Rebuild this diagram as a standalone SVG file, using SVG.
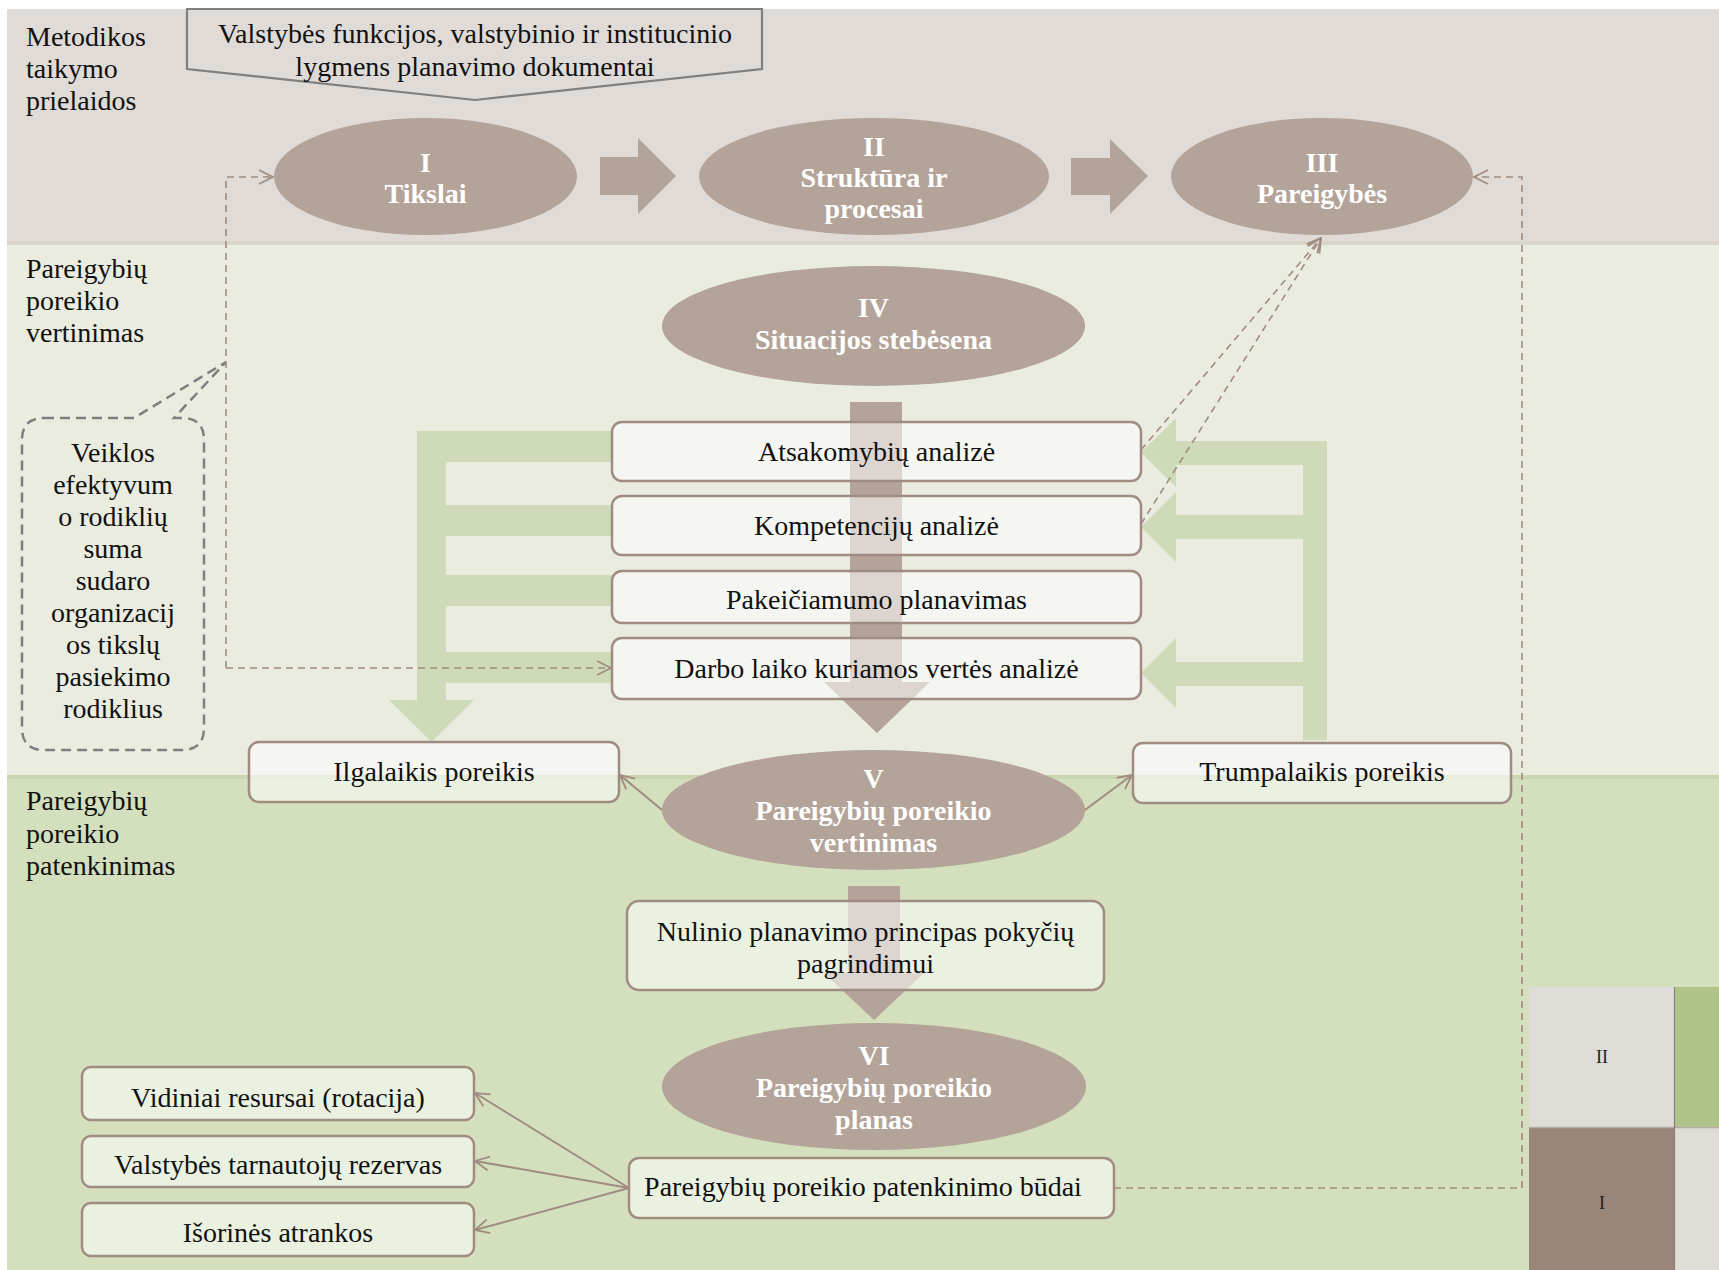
<svg xmlns="http://www.w3.org/2000/svg" width="1719" height="1270" viewBox="0 0 1719 1270">
  <style>
    .lbl { font-family: "Liberation Serif", "DejaVu Serif", serif; font-size: 28px; fill: #111; }
    .mid { text-anchor: middle; }
    .et { font-family: "Liberation Serif", "DejaVu Serif", serif; font-size: 28px; font-weight: bold; fill: #fff; text-anchor: middle; }
    .ell { fill: #b3a398; }
    .box { fill: #ffffff; fill-opacity: 0.55; stroke: #a08c80; stroke-width: 2.5; }
    .garrow { fill: #cfdbb8; }
    .barrow { fill: #b3a398; }
    .dash { fill: none; stroke: #a08c80; stroke-width: 1.6; stroke-dasharray: 7 5; }
    .thin { fill: none; stroke: #a08c80; stroke-width: 2; }
    .small { font-family: "Liberation Serif", "DejaVu Serif", serif; font-size: 18px; fill: #222; text-anchor: middle; }
  </style>
  <defs>
    <marker id="open" viewBox="0 0 16 16" refX="15" refY="8" markerWidth="16" markerHeight="16" markerUnits="userSpaceOnUse" orient="auto">
      <path d="M1,1 L15,8 L1,15" fill="none" stroke="#a08c80" stroke-width="1.8"/>
    </marker>
  </defs>

  <!-- background bands -->
  <rect x="0" y="0" width="1719" height="1270" fill="#ffffff"/>
  <rect x="7" y="9" width="1712" height="234" fill="#e0dbd7"/>
  <rect x="7" y="243" width="1712" height="534" fill="#e9ecdf"/>
  <rect x="7" y="241" width="1712" height="4" fill="#d8d6c9"/>
  <rect x="7" y="777" width="1712" height="493" fill="#d3dfbd"/>
  <rect x="7" y="775" width="1712" height="4" fill="#c9d6b0"/>

  <!-- corner legend tiles -->
  <g id="legend">
    <rect x="1529" y="987" width="146" height="141" fill="#e0dcd8"/>
    <rect x="1529" y="1127" width="146" height="143" fill="#9a8679"/>
    <rect x="1675" y="987" width="44" height="141" fill="#b0c48a"/>
    <rect x="1675" y="1128" width="44" height="142" fill="#e0dcd8"/>
    <line x1="1529" y1="1127.5" x2="1719" y2="1127.5" stroke="#b4aca4" stroke-width="1.5"/>
    <line x1="1674.5" y1="987" x2="1674.5" y2="1270" stroke="#8c7c72" stroke-width="1.2"/>
    <text class="small" x="1602" y="1063">II</text>
    <text class="small" x="1602" y="1209">I</text>
  </g>

  <!-- section labels -->
  <g id="sections">
    <text class="lbl" x="26" y="46">Metodikos</text>
    <text class="lbl" x="26" y="78">taikymo</text>
    <text class="lbl" x="26" y="110">prielaidos</text>
    <text class="lbl" x="26" y="278">Pareigybių</text>
    <text class="lbl" x="26" y="310">poreikio</text>
    <text class="lbl" x="26" y="342">vertinimas</text>
    <text class="lbl" x="26" y="810">Pareigybių</text>
    <text class="lbl" x="26" y="843">poreikio</text>
    <text class="lbl" x="26" y="875">patenkinimas</text>
  </g>

  <!-- block arrows -->
  <g id="flow-arrows">
    <polygon class="barrow" points="600,157 638,157 638,138 676,176 638,214 638,195 600,195"/>
    <polygon class="barrow" points="1071,158 1110,158 1110,139 1148,176 1110,214 1110,195 1071,195"/>
    <polygon class="barrow" points="850,402 902,402 902,682 930,682 877,733 824,682 850,682"/>
    <polygon class="barrow" points="848,886 900,886 900,973 924,973 874,1020 824,973 848,973"/>
    <!-- left feedback tree -->
    <path class="garrow" d="M417,431 H612 V462 H446 V505 H612 V536 H446 V575 H612 V606 H446 V652 H612 V683 H446 V700 H474 L431.5,742 L389,700 H417 Z"/>
    <!-- right feedback tree -->
    <path class="garrow" d="M1327,441 V740 H1303 V686 H1176 V708 L1141,673 L1176,638 V662 H1303 V539 H1176 V562 L1141,527 L1176,492 V515 H1303 V465 H1176 V487 L1141,452.5 L1176,418 V441 Z"/>
  </g>

  <!-- source documents callout -->
  <g id="documents">
    <polygon points="187,9 762,9 762,69 475,100 187,69" fill="none" stroke="#7f7f7f" stroke-width="2.2"/>
    <text class="lbl mid" x="475" y="43">Valstybės funkcijos, valstybinio ir institucinio</text>
    <text class="lbl mid" x="475" y="76">lygmens planavimo dokumentai</text>
  </g>

  <!-- stage ellipses -->
  <g id="stage-I">
    <ellipse class="ell" cx="425.5" cy="176.5" rx="151.5" ry="58.5"/>
    <text class="et" x="425.5" y="172">I</text>
    <text class="et" x="425.5" y="203">Tikslai</text>
  </g>
  <g id="stage-II">
    <ellipse class="ell" cx="874" cy="176.5" rx="175" ry="58.5"/>
    <text class="et" x="874" y="156">II</text>
    <text class="et" x="874" y="187">Struktūra ir</text>
    <text class="et" x="874" y="218">procesai</text>
  </g>
  <g id="stage-III">
    <ellipse class="ell" cx="1322" cy="176.5" rx="151" ry="58.5"/>
    <text class="et" x="1322" y="172">III</text>
    <text class="et" x="1322" y="203">Pareigybės</text>
  </g>
  <g id="stage-IV">
    <ellipse class="ell" cx="873.5" cy="326" rx="211.5" ry="60"/>
    <text class="et" x="873.5" y="317">IV</text>
    <text class="et" x="873.5" y="349">Situacijos stebėsena</text>
  </g>
  <g id="stage-V">
    <ellipse class="ell" cx="873.5" cy="810" rx="211.5" ry="60"/>
    <text class="et" x="873.5" y="788">V</text>
    <text class="et" x="873.5" y="820">Pareigybių poreikio</text>
    <text class="et" x="873.5" y="852">vertinimas</text>
  </g>
  <g id="stage-VI">
    <ellipse class="ell" cx="874" cy="1086.5" rx="212" ry="63.5"/>
    <text class="et" x="874" y="1065">VI</text>
    <text class="et" x="874" y="1097">Pareigybių poreikio</text>
    <text class="et" x="874" y="1129">planas</text>
  </g>

  <!-- analysis boxes -->
  <g id="atsakomybiu">
    <rect class="box" x="612" y="422" width="529" height="59" rx="10"/>
    <text class="lbl mid" x="876.5" y="461">Atsakomybių analizė</text>
  </g>
  <g id="kompetenciju">
    <rect class="box" x="612" y="496" width="529" height="59" rx="10"/>
    <text class="lbl mid" x="876.5" y="535">Kompetencijų analizė</text>
  </g>
  <g id="pakeiciamumo">
    <rect class="box" x="612" y="571" width="529" height="52" rx="10"/>
    <text class="lbl mid" x="876.5" y="609">Pakeičiamumo planavimas</text>
  </g>
  <g id="darbo-laiko">
    <rect class="box" x="612" y="638" width="529" height="61" rx="10"/>
    <text class="lbl mid" x="876.5" y="678">Darbo laiko kuriamos vertės analizė</text>
  </g>

  <g id="ilgalaikis">
    <rect class="box" x="249" y="742" width="370" height="60" rx="10"/>
    <text class="lbl mid" x="434" y="781">Ilgalaikis poreikis</text>
  </g>
  <g id="trumpalaikis">
    <rect class="box" x="1133" y="743" width="378" height="60" rx="10"/>
    <text class="lbl mid" x="1322" y="781">Trumpalaikis poreikis</text>
  </g>

  <g id="nulinio">
    <rect class="box" x="627" y="901" width="477" height="89" rx="12"/>
    <text class="lbl mid" x="865.5" y="941">Nulinio planavimo principas pokyčių</text>
    <text class="lbl mid" x="865.5" y="973">pagrindimui</text>
  </g>

  <g id="budai">
    <rect class="box" x="629" y="1158" width="485" height="60" rx="10"/>
    <text class="lbl mid" x="863" y="1196">Pareigybių poreikio patenkinimo būdai</text>
  </g>

  <g id="vidiniai">
    <rect class="box" x="82" y="1067" width="392" height="53" rx="9"/>
    <text class="lbl mid" x="278" y="1107">Vidiniai resursai (rotacija)</text>
  </g>
  <g id="rezervas">
    <rect class="box" x="82" y="1136" width="392" height="51" rx="9"/>
    <text class="lbl mid" x="278" y="1174">Valstybės tarnautojų rezervas</text>
  </g>
  <g id="atrankos">
    <rect class="box" x="82" y="1203" width="392" height="53" rx="9"/>
    <text class="lbl mid" x="278" y="1242">Išorinės atrankos</text>
  </g>

  <!-- indicator note -->
  <g id="note">
    <path d="M44,418 H134 L226,362 L174,418 H182 Q204,418 204,440 V728 Q204,750 182,750 H44 Q22,750 22,728 V440 Q22,418 44,418 Z" fill="none" stroke="#7f7f7f" stroke-width="2.5" stroke-dasharray="10 6"/>
    <text class="lbl mid" x="113" y="462">Veiklos</text>
    <text class="lbl mid" x="113" y="494">efektyvum</text>
    <text class="lbl mid" x="113" y="526">o rodiklių</text>
    <text class="lbl mid" x="113" y="558">suma</text>
    <text class="lbl mid" x="113" y="590">sudaro</text>
    <text class="lbl mid" x="113" y="622">organizacij</text>
    <text class="lbl mid" x="113" y="654">os tikslų</text>
    <text class="lbl mid" x="113" y="686">pasiekimo</text>
    <text class="lbl mid" x="113" y="718">rodiklius</text>
  </g>

  <!-- connectors -->
  <g id="connectors">
    <path class="dash" d="M226,668 V177 H273" marker-end="url(#open)"/>
    <path class="dash" d="M226,668 H611" marker-end="url(#open)"/>
    <path class="dash" d="M1114,1188 H1522 V177 H1474" marker-end="url(#open)"/>
    <path class="dash" d="M1141,450 L1321,238" marker-end="url(#open)"/>
    <path class="dash" d="M1141,524 L1321,238" marker-end="url(#open)"/>
    <path class="thin" d="M662,810 L620,775" marker-end="url(#open)"/>
    <path class="thin" d="M1085,810 L1132,775" marker-end="url(#open)"/>
    <path class="thin" d="M629,1188 L475,1093" marker-end="url(#open)"/>
    <path class="thin" d="M629,1188 L475,1161" marker-end="url(#open)"/>
    <path class="thin" d="M629,1188 L475,1230" marker-end="url(#open)"/>
  </g>
</svg>
